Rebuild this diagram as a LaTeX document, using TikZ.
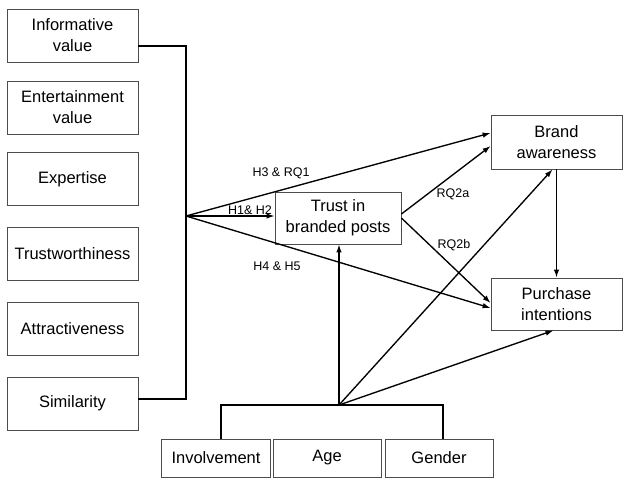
\documentclass[tikz,border=0pt]{standalone}
\usepackage{fontspec}
\setmainfont{Liberation Sans}
\usetikzlibrary{arrows.meta,calc}

\begin{document}
\begin{tikzpicture}[x=1pt,y=-1pt,>={Latex[length=8pt,width=5.5pt]},
      var/.style={rectangle,draw=black!70,line width=0.8pt,minimum width=131pt,minimum height=53pt,align=center,inner sep=0pt,font=\fontsize{16.5}{21}\selectfont},
      ctrl/.style={var,minimum width=108pt,minimum height=38pt},
      hyp/.style={inner sep=0pt,font=\fontsize{12.5}{14}\selectfont},
      path/.style={line width=1.35pt,->},
      brk/.style={line width=1.9pt}]
      \useasboundingbox (0,0) rectangle (631,488);
      % predictors
      \node[var] at (72.5,35.5)  (info) {Informative\\value};
      \node[var] at (72.5,107.5) (ent) {Entertainment\\value};
      \node[var] at (72.5,179)   (exp) {Expertise};
      \node[var] at (72.5,254)   (trw) {Trustworthiness};
      \node[var] at (72.5,328.5) (att) {Attractiveness};
      \node[var] at (72.5,403.5) (sim) {Similarity};
      % mediator and outcomes
      \node[var,minimum width=126pt,minimum height=52pt] at (338,218) (trust) {Trust in\\branded posts};
      \node[var,minimum height=54pt] at (556.5,142) (brand) {Brand\\awareness};
      \node[var,minimum height=52pt] at (556.5,304) (purch) {Purchase\\intentions};
      % controls
      \node[ctrl,minimum width=109pt] at (216,458) (inv) {Involvement};
      \node[ctrl] at (327,458) (age) {Age};
      \node[ctrl] at (439,458) (gen) {Gender};
      \coordinate (btop) at (186,46);
      \coordinate (bbot) at (186,399);
      \coordinate (mrg) at (186,216);
      \coordinate (ctl) at (339,405);
      \coordinate (cl) at (221,405);
      \coordinate (cr) at (443,405);
      \draw[brk] (info.east |- btop) -- (btop) -- (bbot) -- (sim.east |- bbot);
      \draw[brk] (cl |- inv.north) -- (cl) -- (cr) -- (cr |- gen.north);
      \draw[path] (mrg) -- (mrg -| trust.west);
      \draw[path] (mrg) -- ($(brand.west)+(0,-9)$);
      \draw[path] (mrg) -- ($(purch.west)+(0,4)$);
      \draw[path] ($(trust.east)+(0,-4)$) -- ($(brand.west)+(0,4)$);
      \draw[path] (trust.east) -- ($(purch.west)+(0,-1)$);
      \draw[path] (brand) -- (purch);
      \draw[path] (ctl) -- (ctl |- trust.south);
      \draw[path] (ctl) -- ($(brand.south)+(-4,0)$);
      \draw[path] (ctl) -- ($(purch.south)+(-3,0)$);
      % hypotheses
      \node[hyp] at (281,173) (h3) {H3 \& RQ1};
      \node[hyp] at (250,210) (h1) {H1\& H2};
      \node[hyp] at (277,266) (h4) {H4 \& H5};
      \node[hyp] at (453,194) (rq2a) {RQ2a};
      \node[hyp] at (454,245) (rq2b) {RQ2b};
    \end{tikzpicture}
\end{document}
